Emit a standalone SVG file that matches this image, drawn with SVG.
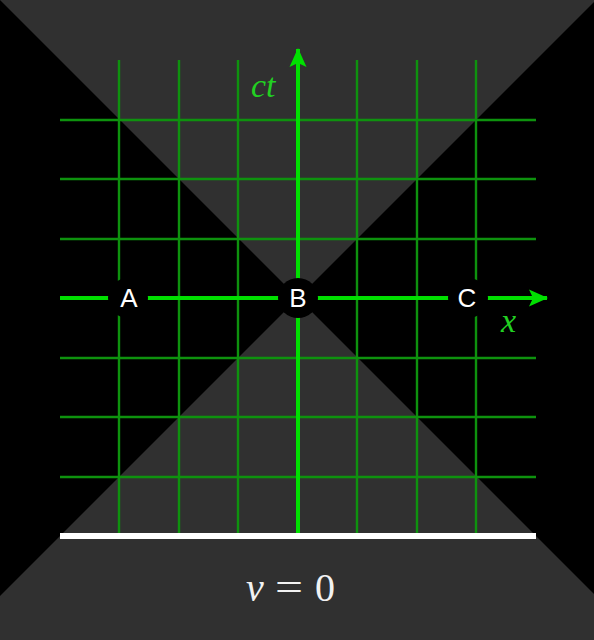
<svg xmlns="http://www.w3.org/2000/svg" width="594" height="640" viewBox="0 0 594 640">
  <style>
    .cone { fill: #303030; }
    .grid { stroke: #0e920e; stroke-width: 2.4; fill: none; }
    .axis { stroke: #00e000; stroke-width: 4; fill: none; }
    .node circle { fill: #000000; }
    .node text { font-family: "Liberation Sans", Arial, sans-serif; font-size: 26px; fill: #ffffff; text-anchor: middle; }
    .axlabel { font-family: "Liberation Serif", "Times New Roman", serif; font-style: italic; font-size: 34px; fill: #22d022; }
    .caption { font-family: "Liberation Serif", "Times New Roman", serif; font-size: 40px; fill: #f2f2f2; }
  </style>
  <defs>
    <marker id="arrow" viewBox="0 0 20 20" refX="18" refY="10" markerWidth="20" markerHeight="20" markerUnits="userSpaceOnUse" orient="auto">
      <path d="M0,1.5 L19,10 L0,18.5 L4,10 Z" fill="#00e000"/>
    </marker>
  </defs>

  <!-- background -->
  <rect x="0" y="0" width="594" height="640" fill="#000000"/>
  <polygon class="cone" points="0,0 596,0 298,298"/>
  <polygon class="cone" points="298,298 596,596 594,596 594,640 0,640 0,596"/>

  <!-- grid -->
  <g id="grid" class="grid">
    <line x1="119" y1="60" x2="119" y2="536"/>
    <line x1="179" y1="60" x2="179" y2="536"/>
    <line x1="238" y1="60" x2="238" y2="536"/>
    <line x1="357" y1="60" x2="357" y2="536"/>
    <line x1="417" y1="60" x2="417" y2="536"/>
    <line x1="476" y1="60" x2="476" y2="536"/>
    <line x1="60" y1="120" x2="536" y2="120"/>
    <line x1="60" y1="179" x2="536" y2="179"/>
    <line x1="60" y1="239" x2="536" y2="239"/>
    <line x1="60" y1="358" x2="536" y2="358"/>
    <line x1="60" y1="417" x2="536" y2="417"/>
    <line x1="60" y1="477" x2="536" y2="477"/>
  </g>

  <!-- axes (connectors) -->
  <g id="connectors">
    <line class="axis" x1="298" y1="536" x2="298" y2="49" marker-end="url(#arrow)"/>
    <line class="axis" x1="60" y1="298" x2="547" y2="298" marker-end="url(#arrow)"/>
  </g>

  <!-- base line -->
  <rect x="60" y="533" width="476" height="6" fill="#ffffff"/>

  <!-- axis labels -->
  <text class="axlabel" x="251" y="97">ct</text>
  <text class="axlabel" x="501" y="332">x</text>

  <!-- nodes -->
  <g id="node-A" class="node">
    <circle cx="128" cy="298" r="20"/>
    <text x="129" y="307">A</text>
  </g>
  <g id="node-B" class="node">
    <circle cx="298" cy="298" r="20"/>
    <text x="298" y="307">B</text>
  </g>
  <g id="node-C" class="node">
    <circle cx="468" cy="298" r="20"/>
    <text x="467" y="307">C</text>
  </g>

  <!-- caption -->
  <g id="caption" class="caption">
    <text x="246" y="601" font-style="italic">v</text>
    <text x="275" y="601" textLength="28" lengthAdjust="spacingAndGlyphs">=</text>
    <text x="315" y="601">0</text>
  </g>
</svg>
